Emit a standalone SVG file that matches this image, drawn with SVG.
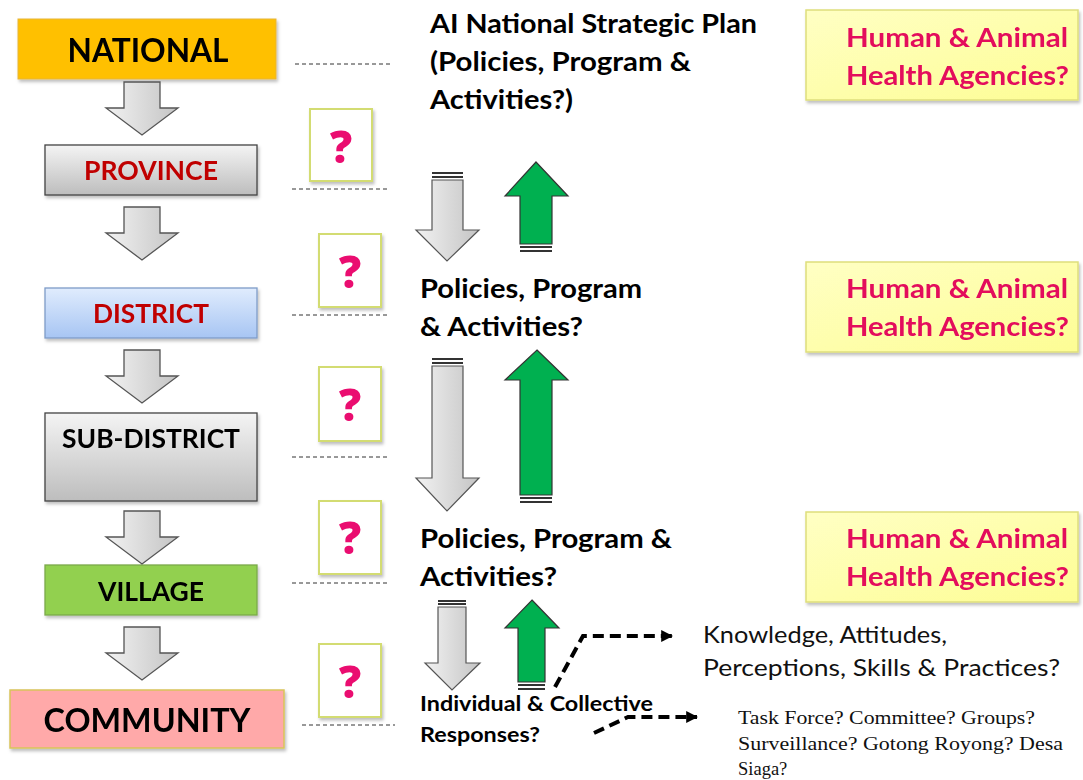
<svg xmlns="http://www.w3.org/2000/svg" width="1083" height="780" viewBox="0 0 1083 780">
  <defs>
    <linearGradient id="gGray" x1="0" y1="0" x2="0" y2="1">
      <stop offset="0" stop-color="#f4f4f4"/>
      <stop offset="1" stop-color="#bdbdbd"/>
    </linearGradient>
    <linearGradient id="gArrow" x1="0" y1="0" x2="1" y2="0">
      <stop offset="0" stop-color="#f2f2f2"/>
      <stop offset="1" stop-color="#c4c4c4"/>
    </linearGradient>
    <linearGradient id="gBlue" x1="0" y1="0" x2="0" y2="1">
      <stop offset="0" stop-color="#e0ecfd"/>
      <stop offset="1" stop-color="#a7c5f3"/>
    </linearGradient>
    <linearGradient id="gYellow" x1="0" y1="0" x2="1" y2="1">
      <stop offset="0" stop-color="#ffffc4"/>
      <stop offset="1" stop-color="#fdfd94"/>
    </linearGradient>
    <filter id="shadow" x="-10%" y="-10%" width="130%" height="140%">
      <feDropShadow dx="1.5" dy="2.5" stdDeviation="1.5" flood-color="#000" flood-opacity="0.25"/>
    </filter>
    <marker id="head" viewBox="0 0 10 10" refX="9" refY="5" markerWidth="3" markerHeight="3" orient="auto">
      <path d="M0,0 L10,5 L0,10 z" fill="#000"/>
    </marker>
    <!-- down arrow between levels -->
    <path id="stepArrow" d="M-18,0 H18 V26 H36 L0,53 L-36,26 H-18 Z"/>
  </defs>
  <style>
    text { font-family: Lato, "Open Sans", "Liberation Sans", sans-serif; }
    .b { font-weight: bold; }
    .lvl { font-weight: bold; text-anchor: middle; }
    .red { fill: #c00000; }
    .q { fill: #ffffff; stroke: #d3dc72; stroke-width: 2; }
    .qm { font-family: "Open Sans", Lato, sans-serif; font-weight: 800; font-size: 44px; fill: #ea0a6f; text-anchor: middle; }
    .dash { stroke: #333; stroke-width: 1; stroke-dasharray: 4 3; fill: none; }
    .step { fill: url(#gArrow); stroke: #555; stroke-width: 1.3; }
    .agency { fill: url(#gYellow); stroke: #dede7c; stroke-width: 1.5; }
    .agt { font-weight: bold; font-size: 27px; fill: #e3095c; }
    .mid { font-weight: bold; font-size: 26px; fill: #000; }
    .down { fill: url(#gArrow); stroke: #555; stroke-width: 1.2; }
    .up { fill: #00b050; stroke: #333; stroke-width: 1.2; }
    .flow { stroke: #000; stroke-width: 4; stroke-dasharray: 11 6; fill: none; }
    .serif { font-family: "Liberation Serif", "DejaVu Serif", serif; font-size: 18.5px; fill: #111; }
  </style>

  <!-- Level boxes -->
  <g id="national" filter="url(#shadow)">
    <rect x="18" y="19" width="258" height="60" fill="#ffc000" stroke="#e7b53a" stroke-width="1"/>
    <text class="lvl" x="148" y="62" font-size="33" textLength="161" lengthAdjust="spacingAndGlyphs">NATIONAL</text>
  </g>
  <g id="province" filter="url(#shadow)">
    <rect x="45" y="145" width="212" height="50" fill="url(#gGray)" stroke="#444" stroke-width="1.3"/>
    <text class="lvl red" x="151" y="180" font-size="27" textLength="134" lengthAdjust="spacingAndGlyphs">PROVINCE</text>
  </g>
  <g id="district" filter="url(#shadow)">
    <rect x="45" y="288" width="212" height="50" fill="url(#gBlue)" stroke="#7e9cc8" stroke-width="1.3"/>
    <text class="lvl red" x="151" y="323" font-size="27" textLength="116" lengthAdjust="spacingAndGlyphs">DISTRICT</text>
  </g>
  <g id="sub-district" filter="url(#shadow)">
    <rect x="45" y="413" width="212" height="88" fill="url(#gGray)" stroke="#444" stroke-width="1.3"/>
    <text class="lvl" x="151" y="448" font-size="27" textLength="178" lengthAdjust="spacingAndGlyphs">SUB-DISTRICT</text>
  </g>
  <g id="village" filter="url(#shadow)">
    <rect x="45" y="565" width="212" height="50" fill="#92d050" stroke="#7aa94a" stroke-width="1.3"/>
    <text class="lvl" x="151" y="601" font-size="26" textLength="106" lengthAdjust="spacingAndGlyphs">VILLAGE</text>
  </g>
  <g id="community" filter="url(#shadow)">
    <rect x="10" y="690" width="274" height="58" fill="#ffa9a9" stroke="#d9c45a" stroke-width="1.5"/>
    <text class="lvl" x="147" y="732" font-size="33" textLength="207" lengthAdjust="spacingAndGlyphs">COMMUNITY</text>
  </g>

  <!-- Question boxes -->
  <g id="q1" filter="url(#shadow)">
    <rect class="q" x="310" y="109" width="62" height="72"/>
    <text class="qm" x="341" y="163">?</text>
  </g>
  <g id="q2" filter="url(#shadow)">
    <rect class="q" x="319" y="234" width="62" height="73"/>
    <text class="qm" x="350" y="288">?</text>
  </g>
  <g id="q3" filter="url(#shadow)">
    <rect class="q" x="319" y="367" width="62" height="74"/>
    <text class="qm" x="350" y="421">?</text>
  </g>
  <g id="q4" filter="url(#shadow)">
    <rect class="q" x="319" y="501" width="62" height="73"/>
    <text class="qm" x="350" y="554">?</text>
  </g>
  <g id="q5" filter="url(#shadow)">
    <rect class="q" x="319" y="644" width="62" height="73"/>
    <text class="qm" x="350" y="698">?</text>
  </g>

  <!-- Agency boxes -->
  <g id="agency1" filter="url(#shadow)">
    <rect class="agency" x="806" y="10" width="272" height="90"/>
    <text class="agt" x="846" y="47" textLength="222" lengthAdjust="spacingAndGlyphs">Human &amp; Animal</text>
    <text class="agt" x="846" y="85" textLength="223" lengthAdjust="spacingAndGlyphs">Health Agencies?</text>
  </g>
  <g id="agency2" filter="url(#shadow)">
    <rect class="agency" x="806" y="262" width="272" height="90"/>
    <text class="agt" x="846" y="298" textLength="222" lengthAdjust="spacingAndGlyphs">Human &amp; Animal</text>
    <text class="agt" x="846" y="336" textLength="223" lengthAdjust="spacingAndGlyphs">Health Agencies?</text>
  </g>
  <g id="agency3" filter="url(#shadow)">
    <rect class="agency" x="806" y="512" width="272" height="90"/>
    <text class="agt" x="846" y="548" textLength="222" lengthAdjust="spacingAndGlyphs">Human &amp; Animal</text>
    <text class="agt" x="846" y="586" textLength="223" lengthAdjust="spacingAndGlyphs">Health Agencies?</text>
  </g>

  <!-- Middle column labels -->
  <g id="plan">
    <text class="mid" x="430" y="33" textLength="327" lengthAdjust="spacingAndGlyphs">AI National Strategic Plan</text>
    <text class="mid" x="430" y="71" textLength="261" lengthAdjust="spacingAndGlyphs">(Policies, Program &amp;</text>
    <text class="mid" x="430" y="109" textLength="143" lengthAdjust="spacingAndGlyphs">Activities?)</text>
  </g>
  <g id="district-policies">
    <text class="mid" x="420" y="298" textLength="222" lengthAdjust="spacingAndGlyphs">Policies, Program</text>
    <text class="mid" x="420" y="336" textLength="163" lengthAdjust="spacingAndGlyphs">&amp; Activities?</text>
  </g>
  <g id="village-policies">
    <text class="mid" x="420" y="548" textLength="252" lengthAdjust="spacingAndGlyphs">Policies, Program &amp;</text>
    <text class="mid" x="420" y="586" textLength="137" lengthAdjust="spacingAndGlyphs">Activities?</text>
  </g>
  <g id="responses">
    <text class="b" x="420" y="711" font-size="20" textLength="233" lengthAdjust="spacingAndGlyphs">Individual &amp; Collective</text>
    <text class="b" x="420" y="742" font-size="20" textLength="120" lengthAdjust="spacingAndGlyphs">Responses?</text>
  </g>
  <g id="kaps">
    <text x="703" y="643" font-size="24" fill="#111" textLength="244" lengthAdjust="spacingAndGlyphs">Knowledge, Attitudes,</text>
    <text x="703" y="676" font-size="24" fill="#111" textLength="357" lengthAdjust="spacingAndGlyphs">Perceptions, Skills &amp; Practices?</text>
  </g>
  <g id="institutions">
    <text class="serif" x="738" y="724" textLength="297" lengthAdjust="spacingAndGlyphs">Task Force? Committee? Groups?</text>
    <text class="serif" x="738" y="750" textLength="325" lengthAdjust="spacingAndGlyphs">Surveillance? Gotong Royong? Desa</text>
    <text class="serif" x="738" y="775">Siaga?</text>
  </g>

  <!-- Connectors -->
  <g id="connectors">
    <!-- level-to-level arrows -->
    <use href="#stepArrow" class="step" x="142" y="82"/>
    <use href="#stepArrow" class="step" x="142" y="207"/>
    <use href="#stepArrow" class="step" x="142" y="350"/>
    <use href="#stepArrow" class="step" x="142" y="511"/>
    <use href="#stepArrow" class="step" x="142" y="627"/>

    <!-- level guide lines -->
    <line class="dash" x1="295" y1="64" x2="390" y2="64"/>
    <line class="dash" x1="292" y1="189" x2="390" y2="189"/>
    <line class="dash" x1="292" y1="315" x2="390" y2="315"/>
    <line class="dash" x1="292" y1="457" x2="390" y2="457"/>
    <line class="dash" x1="292" y1="583" x2="390" y2="583"/>
    <line class="dash" x1="302" y1="725" x2="395" y2="725"/>

    <!-- top-down flows -->
    <g>
      <path class="down" d="M432,180 H463 V230 H479 L447,261 L416,230 H432 Z"/>
      <rect x="432" y="172" width="31" height="2" fill="#333"/>
      <rect x="432" y="176" width="31" height="2" fill="#333"/>
    </g>
    <g>
      <path class="down" d="M432,366 H463 V478 H479 L447,511 L416,478 H432 Z"/>
      <rect x="432" y="358" width="31" height="2" fill="#333"/>
      <rect x="432" y="362" width="31" height="2" fill="#333"/>
    </g>
    <g>
      <path class="down" d="M438,607 H466 V663 H480 L452,690 L425,663 H438 Z"/>
      <rect x="438" y="600" width="28" height="2" fill="#333"/>
      <rect x="438" y="603" width="28" height="2" fill="#333"/>
    </g>

    <!-- bottom-up flows -->
    <g>
      <path class="up" d="M536,162 L568,196 H552 V244 H520 V196 H505 Z"/>
      <rect x="520" y="246" width="32" height="2" fill="#333"/>
      <rect x="520" y="250" width="32" height="2" fill="#333"/>
    </g>
    <g>
      <path class="up" d="M537,350 L568,380 H552 V495 H520 V380 H505 Z"/>
      <rect x="520" y="497" width="32" height="2" fill="#333"/>
      <rect x="520" y="501" width="32" height="2" fill="#333"/>
    </g>
    <g>
      <path class="up" d="M532,600 L559,628 H545 V682 H518 V628 H505 Z"/>
      <rect x="518" y="684" width="27" height="2" fill="#333"/>
      <rect x="518" y="688" width="27" height="2" fill="#333"/>
    </g>

    <!-- response branches -->
    <polyline class="flow" points="555,687 583,636 672,636" marker-end="url(#head)"/>
    <polyline class="flow" points="594,733 628,717 697,717" marker-end="url(#head)"/>
  </g>
</svg>
